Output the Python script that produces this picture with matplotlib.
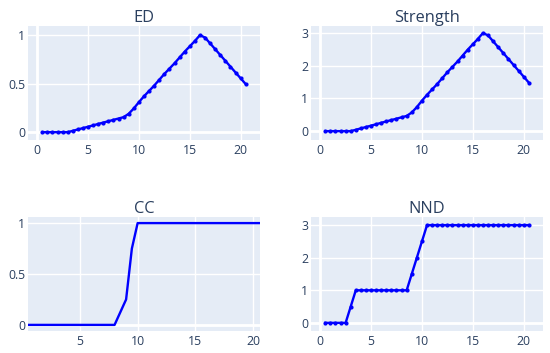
import numpy as np
from matplotlib import pyplot as plt

# x positions shared by all four panels
x = np.arange(0.5, 20.51, 0.5)

ed = [0, 0, 0, 0, 0, 0,
      0.014, 0.028, 0.042, 0.056, 0.07, 0.085, 0.099, 0.113, 0.127, 0.141, 0.155,
      0.19, 0.245, 0.31,
      0.37, 0.425, 0.48, 0.54, 0.6, 0.655, 0.71, 0.77, 0.83, 0.885, 0.94, 1.0,
      0.975, 0.915, 0.855, 0.795, 0.735, 0.675, 0.615, 0.555, 0.495]

strength = [0, 0, 0, 0, 0, 0,
            0.042, 0.084, 0.126, 0.168, 0.21, 0.255, 0.297, 0.339, 0.381, 0.423, 0.465,
            0.57, 0.735, 0.93,
            1.11, 1.275, 1.44, 1.62, 1.8, 1.965, 2.13, 2.31, 2.49, 2.655, 2.82, 3.0,
            2.925, 2.745, 2.565, 2.385, 2.205, 2.025, 1.845, 1.665, 1.485]

cc = [0, 0, 0, 0, 0, 0, 0, 0, 0, 0, 0, 0, 0, 0, 0, 0,
      0.125, 0.25, 0.75, 1,
      1, 1, 1, 1, 1, 1, 1, 1, 1, 1, 1, 1, 1, 1, 1, 1, 1, 1, 1, 1, 1]

nnd = [0, 0, 0, 0, 0,
       0.5, 1,
       1, 1, 1, 1, 1, 1, 1, 1, 1, 1,
       1.5, 2, 2.5,
       3, 3, 3, 3, 3, 3, 3, 3, 3, 3, 3, 3, 3, 3, 3, 3, 3, 3, 3, 3, 3]

plt.rcParams['font.family'] = ['Open Sans', 'DejaVu Sans']
txt = '#2a3f5f'
bg = '#e5ecf6'
line = '#0000ff'

fig = plt.figure(figsize=(5.5, 3.53), dpi=100)

def panel(rect, y, title, yticks, ylabels, xlim, ylim, markers=True, xzero=True):
    ax = fig.add_axes(rect)
    ax.set_facecolor(bg)
    for s in ax.spines.values():
        s.set_visible(False)
    ax.set_xlim(*xlim)
    ax.set_ylim(*ylim)
    ax.set_xticks([t for t in [0, 5, 10, 15, 20] if xlim[0] < t < xlim[1]])
    ax.set_yticks(yticks)
    ax.set_yticklabels(ylabels)
    ax.tick_params(length=0, labelsize=8.8, labelcolor=txt)
    ax.tick_params(axis='x', pad=3)
    ax.tick_params(axis='y', pad=2)
    ax.grid(True, color='white', linewidth=1)
    ax.set_axisbelow(True)
    ax.axhline(0, color='white', linewidth=2, zorder=1)
    if xzero:
        ax.axvline(0, color='white', linewidth=2, zorder=1)
    if markers:
        ax.plot(x, y, color=line, linewidth=1.7, marker='o', markersize=2.0, zorder=3)
    else:
        ax.plot(x, y, color=line, linewidth=1.7, zorder=3)
    ax.set_title(title, fontsize=11.8, color=txt, pad=3)
    return ax

panel([0.0509, 0.603, 0.4218, 0.323], ed, 'ED', [0, 0.5, 1], ['0', '0.5', '1'],
      (-0.9, 21.9), (-0.082, 1.093))
panel([0.5655, 0.603, 0.4218, 0.323], strength, 'Strength', [0, 1, 2, 3], ['0', '1', '2', '3'],
      (-0.9, 21.9), (-0.275, 3.21))
panel([0.0509, 0.0623, 0.4218, 0.323], cc, 'CC', [0, 0.5, 1], ['0', '0.5', '1'],
      (0.5, 20.6), (-0.06, 1.06), markers=False, xzero=False)
panel([0.5655, 0.0623, 0.4218, 0.323], nnd, 'NND', [0, 1, 2, 3], ['0', '1', '2', '3'],
      (-0.9, 21.9), (-0.25, 3.25))

fig.savefig('out.png', dpi=100)
